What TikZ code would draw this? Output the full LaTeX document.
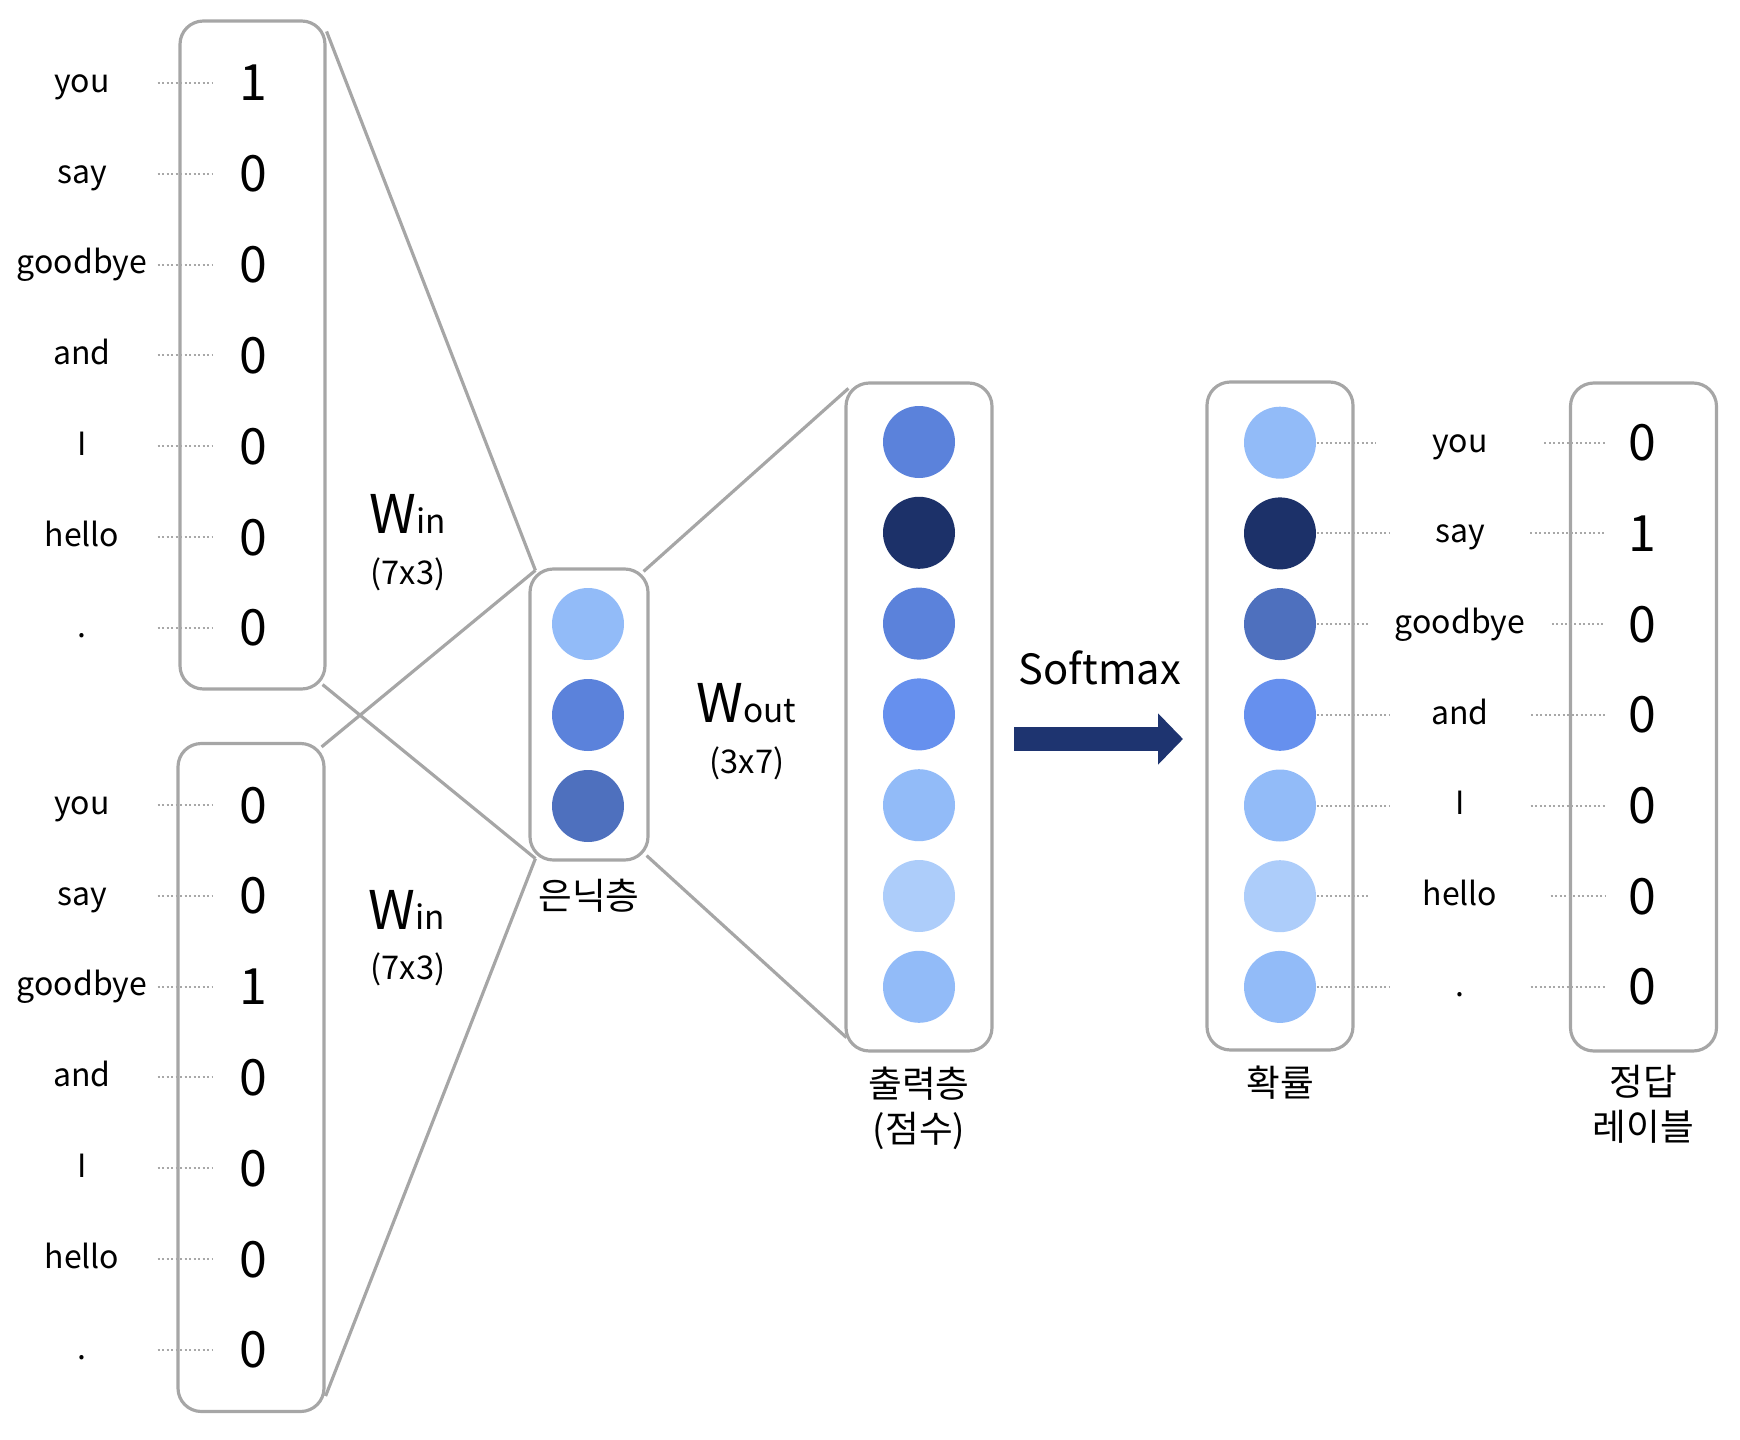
\documentclass[tikz,border=0pt]{standalone}
\usepackage{fontspec}
\setmainfont{Noto Sans CJK KR}
\usepackage{tikz}
\definecolor{boxgray}{RGB}{166, 166, 166}
\definecolor{dotgray}{RGB}{168, 168, 168}
\definecolor{unitpale}{RGB}{173, 205, 250}
\definecolor{unitlight}{RGB}{146, 187, 248}
\definecolor{unitmid}{RGB}{91, 130, 219}
\definecolor{unitbright}{RGB}{102, 144, 238}
\definecolor{unitdeep}{RGB}{78, 112, 190}
\definecolor{unitnavy}{RGB}{28, 49, 105}
\definecolor{arrownavy}{RGB}{30, 52, 112}
\usetikzlibrary{positioning,calc,arrows.meta}

\begin{document}
\begin{tikzpicture}[x=0.3pt, y=-0.3pt,
    vecbox/.style={draw=boxgray, line width=0.95pt, rounded corners=7pt, inner sep=0, minimum width=43.8pt, minimum height=200.4pt},
    neuron/.style={circle, inner sep=0, minimum size=21.6pt},
    word/.style={inner sep=0, text height=7pt, text depth=1.4pt, minimum width=45pt, font=\fontsize{9.6}{12}\selectfont},
    digit/.style={inner sep=0, text height=10.8pt, text depth=0pt, minimum width=23.4pt, font=\fontsize{15}{18}\selectfont},
    leader/.style={draw=dotgray, line width=0.6pt, dash pattern=on 0.6pt off 0.75pt},
    link/.style={draw=boxgray, line width=0.95pt},
    layername/.style={inner sep=0, align=center, font=\fontsize{11}{13.5}\selectfont}]
    \useasboundingbox (0,0) rectangle (1740,1440);

    % Input one-hot vectors
    \node[vecbox, minimum width=43.5pt] (inA) at (252.5,355) {};
    \node[word] (wa1) at (82,83) {you};
    \node[word] (wa2) at (82,173.8) {say};
    \node[word] (wa3) at (82,264.6) {goodbye};
    \node[word] (wa4) at (82,355.4) {and};
    \node[word] (wa5) at (82,446.2) {I};
    \node[word] (wa6) at (82,537) {hello};
    \node[word] (wa7) at (82,627.8) {.};
    \node[digit] (va1) at (253,83) {1};
    \node[digit] (va2) at (253,173.8) {0};
    \node[digit] (va3) at (253,264.6) {0};
    \node[digit] (va4) at (253,355.4) {0};
    \node[digit] (va5) at (253,446.2) {0};
    \node[digit] (va6) at (253,537) {0};
    \node[digit] (va7) at (253,627.8) {0};
    \draw[leader] (wa1) -- (va1);
    \draw[leader] (wa2) -- (va2);
    \draw[leader] (wa3) -- (va3);
    \draw[leader] (wa4) -- (va4);
    \draw[leader] (wa5) -- (va5);
    \draw[leader] (wa6) -- (va6);
    \draw[leader] (wa7) -- (va7);

    \node[vecbox] (inB) at (251,1077.5) {};
    \node[word] (wb1) at (82,805) {you};
    \node[word] (wb2) at (82,895.8) {say};
    \node[word] (wb3) at (82,986.6) {goodbye};
    \node[word] (wb4) at (82,1077.4) {and};
    \node[word] (wb5) at (82,1168.2) {I};
    \node[word] (wb6) at (82,1259) {hello};
    \node[word] (wb7) at (82,1349.8) {.};
    \node[digit] (vb1) at (253,805) {0};
    \node[digit] (vb2) at (253,895.8) {0};
    \node[digit] (vb3) at (253,986.6) {1};
    \node[digit] (vb4) at (253,1077.4) {0};
    \node[digit] (vb5) at (253,1168.2) {0};
    \node[digit] (vb6) at (253,1259) {0};
    \node[digit] (vb7) at (253,1349.8) {0};
    \draw[leader] (wb1) -- (vb1);
    \draw[leader] (wb2) -- (vb2);
    \draw[leader] (wb3) -- (vb3);
    \draw[leader] (wb4) -- (vb4);
    \draw[leader] (wb5) -- (vb5);
    \draw[leader] (wb6) -- (vb6);
    \draw[leader] (wb7) -- (vb7);

    % Hidden layer
    \node[vecbox, minimum width=35.4pt, minimum height=87.3pt] (hid) at (589,714.5) {};
    \node[neuron, fill=unitlight] (h1) at (588,624) {};
    \node[neuron, fill=unitmid] (h2) at (588,715) {};
    \node[neuron, fill=unitdeep] (h3) at (588,806) {};
    \node[layername, below=5pt of hid] (hidlbl) {은닉층};

    \node[anchor=base west, inner sep=0] (winA) at (369,533) {{\fontsize{16}{19}\selectfont W}{\fontsize{10}{12}\selectfont in}};
    \node[anchor=base, inner sep=0, font=\fontsize{9.8}{12}\selectfont] (szA) at (408,584) {(7x3)};
    \node[anchor=base west, inner sep=0] (winB) at (368,929) {{\fontsize{16}{19}\selectfont W}{\fontsize{10}{12}\selectfont in}};
    \node[anchor=base, inner sep=0, font=\fontsize{9.8}{12}\selectfont] (szB) at (408,979) {(7x3)};

    \draw[link] ($(inA.north east)+(0,12)$) -- ($(hid.north west)+(7,3)$);
    \draw[link] ($(inA.south east)+(-4,-6)$) -- ($(hid.south west)+(7,-3)$);
    \draw[link] ($(inB.north east)+(-4,5)$) -- ($(hid.north west)+(7,3)$);
    \draw[link] ($(inB.south east)+(0,-17)$) -- ($(hid.south west)+(7,-3)$);

    % Output layer (scores)
    \node[vecbox] (outv) at (919,717) {};
    \node[neuron, fill=unitmid] (o1) at (919,442) {};
    \node[neuron, fill=unitnavy] (o2) at (919,532.8) {};
    \node[neuron, fill=unitmid] (o3) at (919,623.6) {};
    \node[neuron, fill=unitbright] (o4) at (919,714.4) {};
    \node[neuron, fill=unitlight] (o5) at (919,805.2) {};
    \node[neuron, fill=unitpale] (o6) at (919,896) {};
    \node[neuron, fill=unitlight] (o7) at (919,986.8) {};
    \node[layername, below=4.2pt of outv] (outlbl) {출력층\\(점수)};

    \node[anchor=base west, inner sep=0] (wout) at (696,722) {{\fontsize{16}{19}\selectfont W}{\fontsize{10}{12}\selectfont out}};
    \node[anchor=base, inner sep=0, font=\fontsize{9.8}{12}\selectfont] (szC) at (747,773) {(3x7)};

    \draw[link] ($(hid.north east)+(-6,4)$) -- ($(outv.north west)+(4,7)$);
    \draw[link] ($(hid.south east)+(-3,-6)$) -- ($(outv.south west)+(2,-15)$);

    % Softmax
    \node[anchor=base west, inner sep=0, font=\fontsize{12.5}{15}\selectfont] (smlbl) at (1018,684) {Softmax};
    \coordinate (smA) at (1014,739);
    \coordinate (smB) at (1183,739);
    \draw[-{Triangle[length=7.5pt,width=15pt]}, line width=7.3pt, arrownavy] (smA) -- (smB);

    % Probabilities
    \node[vecbox] (prob) at (1280,716) {};
    \node[neuron, fill=unitlight] (p1) at (1280,442.7) {};
    \node[neuron, fill=unitnavy] (p2) at (1280,533.4) {};
    \node[neuron, fill=unitdeep] (p3) at (1280,624.1) {};
    \node[neuron, fill=unitbright] (p4) at (1280,714.8) {};
    \node[neuron, fill=unitlight] (p5) at (1280,805.5) {};
    \node[neuron, fill=unitpale] (p6) at (1280,896.2) {};
    \node[neuron, fill=unitlight] (p7) at (1280,986.9) {};
    \node[layername, below=4pt of prob] (problbl) {확률};

    \node[word, minimum width=50.2pt] (r1) at (1460,442.7) {you};
    \node[word, minimum width=41.6pt] (r2) at (1460,533.4) {say};
    \node[word, minimum width=54.7pt] (r3) at (1460,624.1) {goodbye};
    \node[word, minimum width=42.2pt] (r4) at (1460,714.8) {and};
    \node[word, minimum width=42pt] (r5) at (1460,805.5) {I};
    \node[word, minimum width=53.9pt] (r6) at (1460,896.2) {hello};
    \node[word, minimum width=42pt] (r7) at (1460,986.9) {.};

    % Correct labels
    \node[vecbox] (lab) at (1643.5,717) {};
    \node[digit, minimum width=21.6pt] (t1) at (1642,442.7) {0};
    \node[digit, minimum width=21.6pt] (t2) at (1642,533.4) {1};
    \node[digit, minimum width=21.6pt] (t3) at (1642,624.1) {0};
    \node[digit, minimum width=21.6pt] (t4) at (1642,714.8) {0};
    \node[digit, minimum width=21.6pt] (t5) at (1642,805.5) {0};
    \node[digit, minimum width=21.6pt] (t6) at (1642,896.2) {0};
    \node[digit, minimum width=21.6pt] (t7) at (1642,986.9) {0};
    \node[layername, below=3.5pt of lab] (lablbl) {정답\\레이블};

    \draw[leader] (p1) -- (r1);
    \draw[leader] (p2) -- (r2);
    \draw[leader] (p3) -- (r3);
    \draw[leader] (p4) -- (r4);
    \draw[leader] (p5) -- (r5);
    \draw[leader] (p6) -- (r6);
    \draw[leader] (p7) -- (r7);
    \draw[leader] (r1) -- (t1);
    \draw[leader] (r2) -- (t2);
    \draw[leader] (r3) -- (t3);
    \draw[leader] (r4) -- (t4);
    \draw[leader] (r5) -- (t5);
    \draw[leader] (r6) -- (t6);
    \draw[leader] (r7) -- (t7);
\end{tikzpicture}
\end{document}
